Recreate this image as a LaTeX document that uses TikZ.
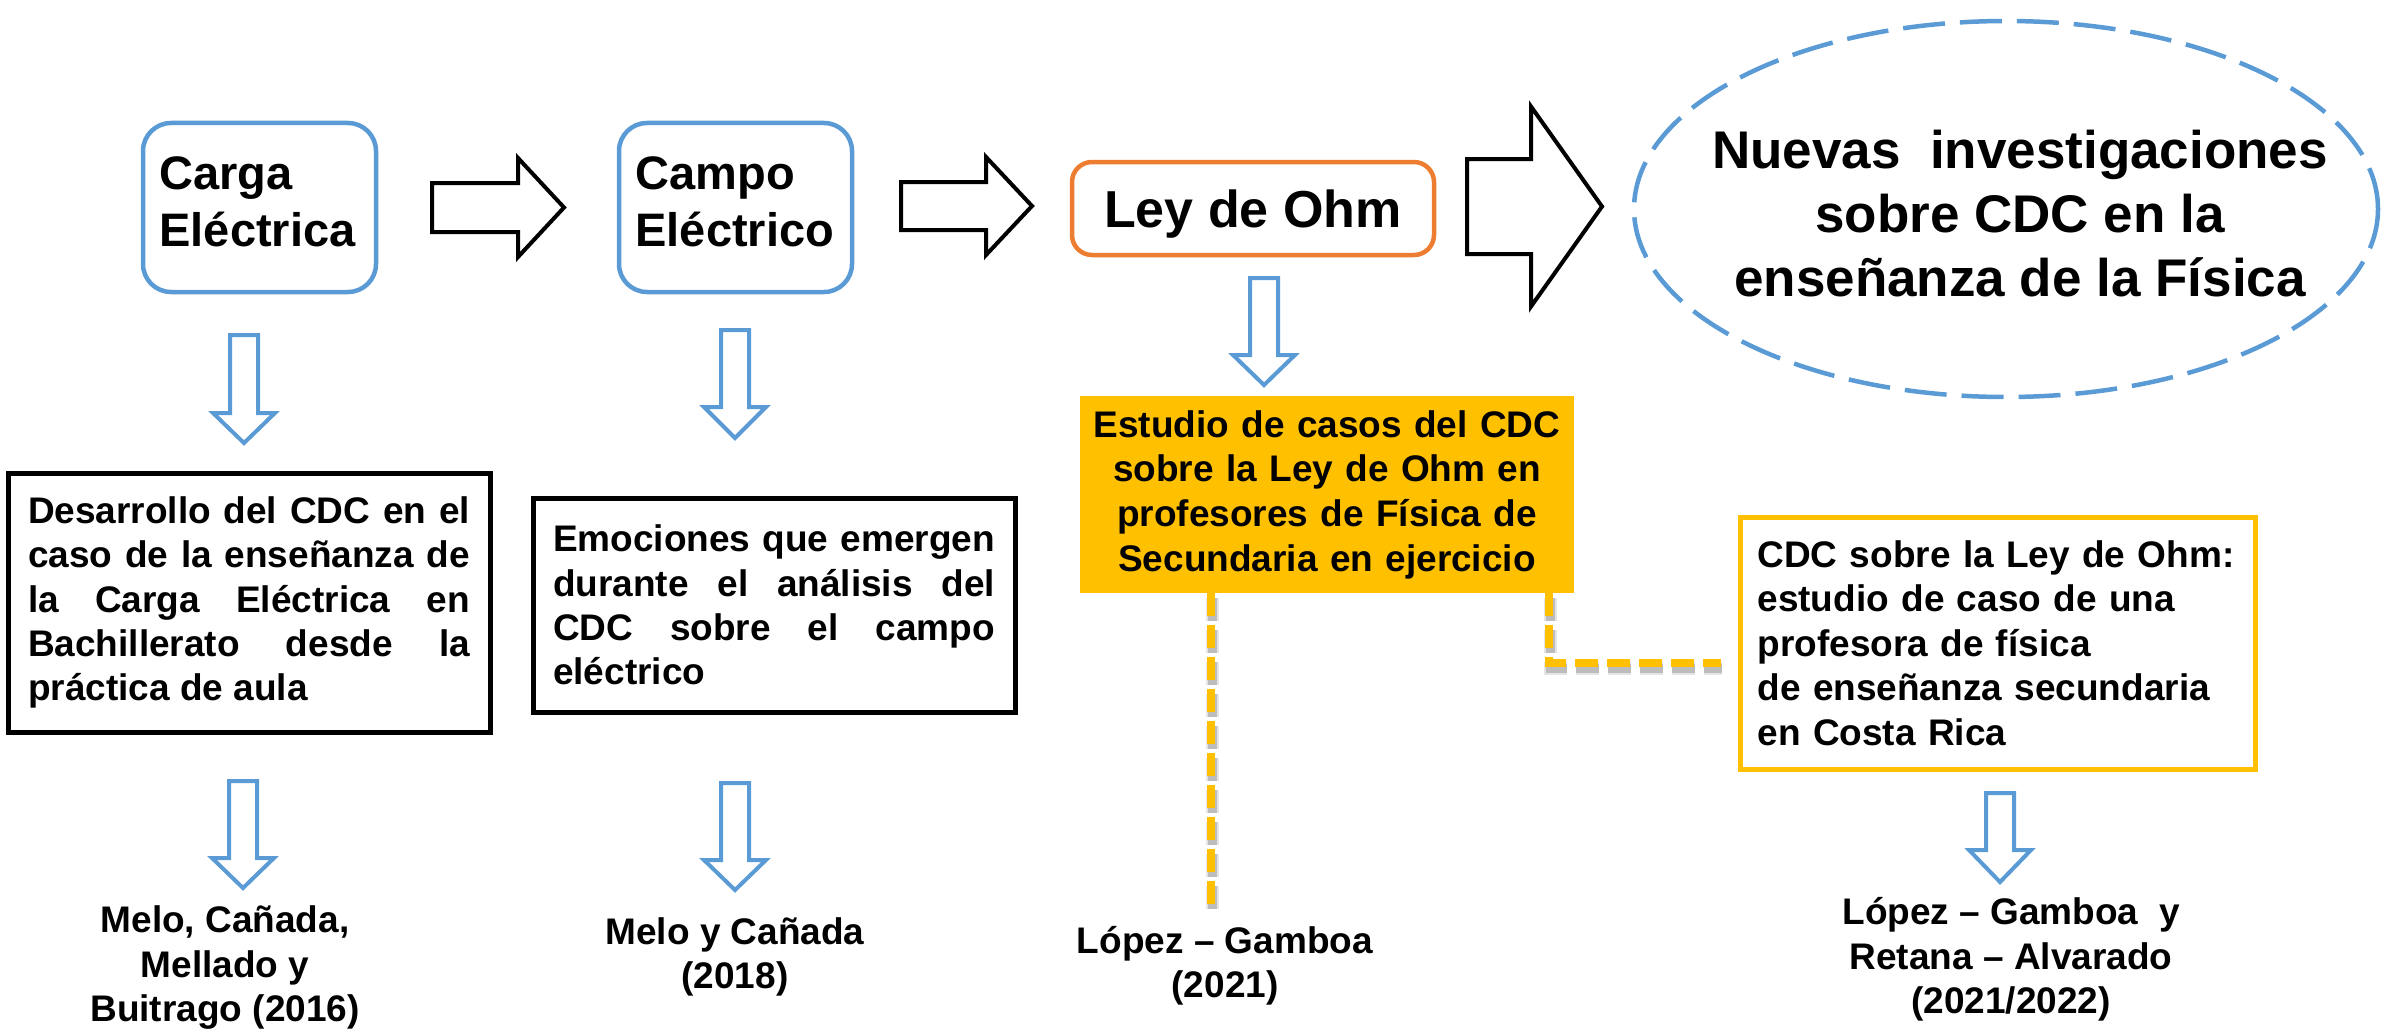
\documentclass[tikz,border=0pt]{standalone}
\usepackage{fontspec}
\setmainfont{Liberation Sans}
\usetikzlibrary{shapes.geometric,calc}
\definecolor{cblue}{HTML}{5B9BD5}
\definecolor{corange}{HTML}{ED7D31}
\definecolor{cgold}{HTML}{FFC000}
\tolerance=10000 \hbadness=10000 \hyphenpenalty=10000 \exhyphenpenalty=10000
\newcommand\bdown[4]{%
  \draw[barrow] (#1-14,#2) -- (#1+14,#2) -- (#1+14,#3) -- (#1+31,#3) -- (#1,#4) -- (#1-31,#3) -- (#1-14,#3) -- cycle;}
\newcommand\bright[6]{%
  \draw[karrow] (#1,#4-#5) -- (#2,#4-#5) -- (#2,#4-#6) -- (#3,#4) -- (#2,#4+#6) -- (#2,#4+#5) -- (#1,#4+#5) -- cycle;}
\begin{document}
\begin{tikzpicture}[x=1pt,y=-1pt,
  bluebox/.style={draw=cblue, line width=4.5pt, rounded corners=28pt, minimum width=233pt, minimum height=169pt,
     inner xsep=16.5pt, text width=200pt, align=left, font=\fontsize{47}{57}\selectfont\bfseries},
  blackbox/.style={draw=black, line width=5pt, minimum width=482pt, inner xsep=20pt, text width=442pt,
     align=justify, font=\fontsize{37}{44.3}\selectfont\bfseries},
  reflabel/.style={align=center, font=\fontsize{37}{44.5}\selectfont\bfseries, inner sep=0pt},
  barrow/.style={draw=cblue, line width=4pt, fill=white, line join=miter},
  karrow/.style={draw=black, line width=4pt, fill=white, line join=miter},
  gdash/.style={draw=cgold, line width=8pt, dash pattern=on 23pt off 9pt},
  gshadowA/.style={draw=black, opacity=0.10, line width=13pt, dash pattern=on 23pt off 9pt},
  gshadowB/.style={draw=black, opacity=0.18, line width=9pt, dash pattern=on 23pt off 9pt}
]
\useasboundingbox (0,0) rectangle (2382,1030);

% top row
\node[bluebox] (carga) at (259.5,207.5) {Carga\\Eléctrica\rule[-11pt]{0pt}{11pt}};
\node[bluebox] (campo) at (735.5,207.5) {Campo\\Eléctrico\rule[-11pt]{0pt}{11pt}};
\node[draw=corange, line width=4.5pt, rounded corners=20pt, minimum width=362pt, minimum height=93pt,
      text depth=0pt, font=\fontsize{52}{60}\selectfont\bfseries] (ley) at (1253,208.5) {Ley de Ohm};
\node[ellipse, draw=cblue, line width=4.5pt, dash pattern=on 42pt off 15pt, minimum width=744pt,
      minimum height=376pt] (nuevasE) at (2006,209) {};
\node[align=center, font=\fontsize{53}{64}\selectfont\bfseries, inner sep=0pt] (nuevas) at (2020,213.5)
   {Nuevas~~investigaciones\\sobre CDC en la\\enseñanza de la Física};

% block arrows
\bright{432}{518}{564}{207.5}{24.5}{49.5}
\bright{901}{986}{1032}{206}{24}{49}
\bright{1467}{1531}{1602}{206.5}{47.5}{100}

% second row
\node[blackbox, minimum height=259pt] (desarrollo) at (249,602.5)
  {Desarrollo del CDC en el\linebreak caso de la enseñanza de\linebreak la Carga Eléctrica en\linebreak Bachillerato desde la\linebreak práctica de aula};
\node[blackbox, minimum height=214pt] (emociones) at (774,605)
  {Emociones que emergen\linebreak durante el análisis del\linebreak CDC sobre el campo\linebreak eléctrico};
\node[fill=cgold, minimum width=494pt, minimum height=197pt, text width=480pt, align=center, inner xsep=7pt,
      font=\fontsize{37}{44.7}\selectfont\bfseries] (estudio) at (1327,494.5)
  {Estudio de casos del CDC\\sobre la Ley de Ohm en\\profesores de Física de\\Secundaria en ejercicio};
\node[draw=cgold, line width=5pt, fill=white, minimum width=515pt, minimum height=252pt, text width=480pt,
      inner xsep=17.5pt, align=left, font=\fontsize{37}{44.5}\selectfont\bfseries] (cdc) at (1997.5,643)
  {CDC sobre la Ley de Ohm:\\estudio de caso de una\\profesora de física\\de enseñanza secundaria\\en Costa Rica};

% down arrows
\bdown{244}{335}{413}{443}
\bdown{735}{330}{407}{438}
\bdown{1264}{278}{355}{385}
\bdown{243}{781}{858}{888}
\bdown{735}{783}{860}{890}
\bdown{2000}{793}{850}{882}

% references
\node[reflabel] (melo1) at (225,968) {Melo, Cañada,\\Mellado y\\Buitrago (2016)};
\node[reflabel] (melo2) at (735,957) {Melo y Cañada\\(2018)};
\node[reflabel] (lopez1) at (1225,966) {López – Gamboa\\(2021)};
\node[reflabel] (lopez2) at (2011,959.5) {López – Gamboa~~y\\Retana – Alvarado\\(2021/2022)};

% dashed connectors
\coordinate (lx) at (1211,905);
\coordinate (cx) at (1549,663);
\coordinate (hx) at (1721,663);
\foreach \s in {gshadowA,gshadowB}{
  \draw[\s] ([shift={(1,5)}]estudio.south -| lx) -- ([shift={(1,5)}]lx);
  \draw[\s] ([shift={(1,5)}]estudio.south -| cx) -- ([shift={(1,5)}]cx) -- ([shift={(1,5)}]hx);
}
\draw[gdash] (estudio.south -| lx) -- (lx);
\draw[gdash] (estudio.south -| cx) -- (cx) -- (hx);
\end{tikzpicture}
\end{document}
